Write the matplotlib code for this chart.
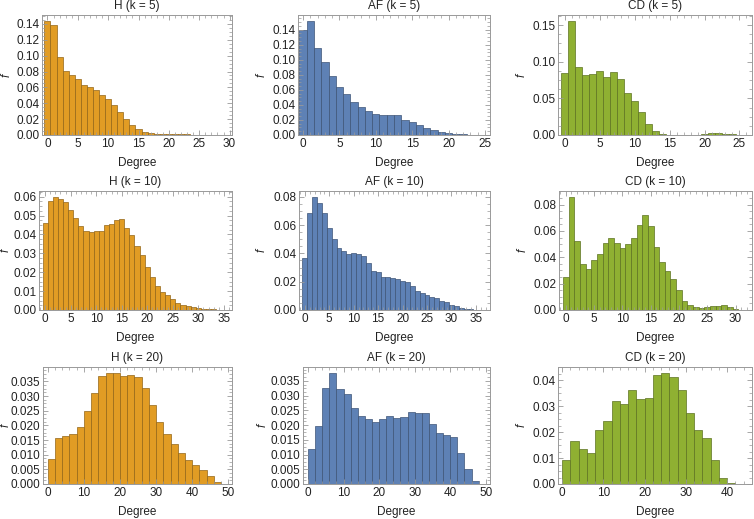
#!/usr/bin/env python3
import numpy as np
import matplotlib
matplotlib.use("Agg")
import matplotlib.pyplot as plt
from matplotlib.ticker import MultipleLocator, AutoMinorLocator, FormatStrFormatter

plt.rcParams.update({
    "font.family": ["Liberation Sans", "DejaVu Sans"],
    "font.size": 8.5,
})

# degree frequencies (bin width 1 for k=5/10, 2 for k=20)
h_k5 = [0.144, 0.139, 0.098, 0.081, 0.076, 0.070, 0.063, 0.060, 0.057, 0.050,
        0.045, 0.038, 0.029, 0.020, 0.012, 0.007, 0.004, 0.0025, 0.0015, 0.0012,
        0.0013, 0.0015, 0.0012, 0.0008, 0.0006, 0.0004, 0.0002, 0.0002, 0.0001, 0.0001]
af_k5 = [0.140, 0.152, 0.116, 0.097, 0.079, 0.064, 0.055, 0.044, 0.037, 0.032,
         0.028, 0.027, 0.027, 0.026, 0.020, 0.017, 0.013, 0.009, 0.007, 0.0045,
         0.003, 0.0013, 0.0008, 0.0005, 0.0003]
cd_k5 = [0.085, 0.156, 0.093, 0.082, 0.083, 0.087, 0.079, 0.086, 0.077, 0.057,
         0.046, 0.031, 0.015, 0.005, 0.001, 0.0002, 0.0001, 0.0001, 0.0002, 0.0005,
         0.0015, 0.0025, 0.003, 0.002, 0.001]

h_k10 = [0.0463, 0.0577, 0.0600, 0.0586, 0.0570, 0.0528, 0.0488, 0.0444, 0.0420, 0.0412,
         0.0418, 0.0420, 0.0450, 0.0453, 0.0477, 0.0484, 0.0433, 0.0396, 0.0337, 0.0290,
         0.0226, 0.0175, 0.0128, 0.0096, 0.0079, 0.0058, 0.0039, 0.0028, 0.0023, 0.0014,
         0.0009, 0.0007, 0.0004, 0.0003, 0.0002, 0.0001]
af_k10 = [0.0364, 0.0686, 0.0800, 0.0756, 0.0683, 0.0580, 0.0500, 0.0440, 0.0415, 0.0397,
          0.0400, 0.0394, 0.0380, 0.0329, 0.0275, 0.0270, 0.0231, 0.0231, 0.0224, 0.0219,
          0.0208, 0.0196, 0.0166, 0.0135, 0.0119, 0.0103, 0.0093, 0.0084, 0.0065, 0.0054,
          0.0037, 0.0026, 0.0016, 0.0007, 0.0004, 0.0002, 0.0001]
cd_k10 = [0.0248, 0.0860, 0.0520, 0.0350, 0.0313, 0.0380, 0.0428, 0.0510, 0.0548, 0.0505,
          0.0470, 0.0498, 0.0550, 0.0648, 0.0720, 0.0638, 0.0475, 0.0365, 0.0295, 0.0238,
          0.0148, 0.0070, 0.0038, 0.0023, 0.0013, 0.0020, 0.0030, 0.0033, 0.0035, 0.0020,
          0.0008, 0.0003]

h_k20 = [0.0085, 0.0156, 0.0162, 0.0170, 0.0195, 0.0250, 0.0311, 0.0370, 0.0379, 0.0380,
         0.0367, 0.0371, 0.0366, 0.0329, 0.0270, 0.0213, 0.0170, 0.0137, 0.0106, 0.0082,
         0.0065, 0.0048, 0.0028, 0.0008]
af_k20 = [0.0119, 0.0198, 0.0327, 0.0378, 0.0323, 0.0304, 0.0259, 0.0232, 0.0222, 0.0210,
          0.0222, 0.0230, 0.0224, 0.0226, 0.0244, 0.0242, 0.0242, 0.0205, 0.0173, 0.0167,
          0.0160, 0.0105, 0.0051, 0.0009]
cd_k20 = [0.0093, 0.0164, 0.0136, 0.0120, 0.0208, 0.0244, 0.0321, 0.0309, 0.0361, 0.0329,
          0.0330, 0.0418, 0.0429, 0.0411, 0.0360, 0.0273, 0.0208, 0.0178, 0.0094, 0.0024,
          0.0005]

models = ["H", "AF", "CD"]
ks = [5, 10, 20]
bin_widths = [1, 1, 2]
data = [[h_k5, af_k5, cd_k5],
        [h_k10, af_k10, cd_k10],
        [h_k20, af_k20, cd_k20]]

colors = ["#E19C24", "#5E81B5", "#8FB032"]
x_major = [5, 5, 10]
y_major = [[0.02, 0.02, 0.05], [0.01, 0.02, 0.02], [0.005, 0.005, 0.01]]
y_fmt = [["%.2f"] * 3, ["%.2f"] * 3, ["%.3f", "%.3f", "%.2f"]]
xlims = [[(-0.9, 30.4), (-0.7, 25.7), (-1.0, 26.8)],
         [(-1.2, 36.6), (-1.2, 37.9), (-1.2, 32.9)],
         [(-1.3, 51.0), (-1.4, 51.2), (-1.0, 46.0)]]

# axes frames in pixels: (left, right) per column, (top, bottom) per row
col_px = [[(42, 232), (298, 490), (558, 752)],
          [(39, 232), (299, 490), (559, 752)],
          [(43, 232), (303, 490), (558, 752)]]
row_px = [(15, 135), (191, 310), (367, 484)]
ylab_px = [[7, 262, 522], [6, 262, 523], [6, 263, 522]]
W, H = 754, 519

fig = plt.figure(figsize=(W / 100, H / 100), dpi=100)

for r in range(3):
    top, bot = row_px[r]
    bw = bin_widths[r]
    for c in range(3):
        left, right = col_px[r][c]
        ax = fig.add_axes([left / W, 1 - bot / H, (right - left) / W, (bot - top) / H])
        vals = np.array(data[r][c])
        if bw == 1:
            lefts = np.arange(len(vals)) - 0.5
        else:
            lefts = np.arange(len(vals)) * bw
        col = np.array(matplotlib.colors.to_rgb(colors[c]))
        ax.bar(lefts, vals, width=bw, align="edge", color=col,
               edgecolor=col * 0.65, linewidth=0.5)

        ax.set_xlim(*xlims[r][c])
        ax.set_ylim(0, vals.max() * 1.05)

        ax.xaxis.set_major_locator(MultipleLocator(x_major[r]))
        ax.xaxis.set_minor_locator(AutoMinorLocator(5))
        ax.yaxis.set_major_locator(MultipleLocator(y_major[r][c]))
        ax.yaxis.set_minor_locator(AutoMinorLocator(4))
        ax.yaxis.set_major_formatter(FormatStrFormatter(y_fmt[r][c]))

        ax.tick_params(which="both", direction="in", top=True, right=True,
                       color="#999999", labelcolor="#222222", labelsize=8.5, pad=2)
        ax.tick_params(which="major", length=3.5, width=0.6)
        ax.tick_params(which="minor", length=2, width=0.5)
        for s in ax.spines.values():
            s.set_color("#999999")
            s.set_linewidth(0.7)

        ax.set_title(f"{models[c]} (k = {ks[r]})", fontsize=8.5, pad=4, color="#222222")
        ax.set_xlabel("Degree", fontsize=8.5, labelpad=5, color="#222222")
        fig.text(ylab_px[r][c] / W, 1 - (top + bot) / 2 / H, "f", fontsize=8.5,
                 style="italic", rotation=90, ha="center", va="center", color="#222222")

fig.savefig("out.png", dpi=100)
